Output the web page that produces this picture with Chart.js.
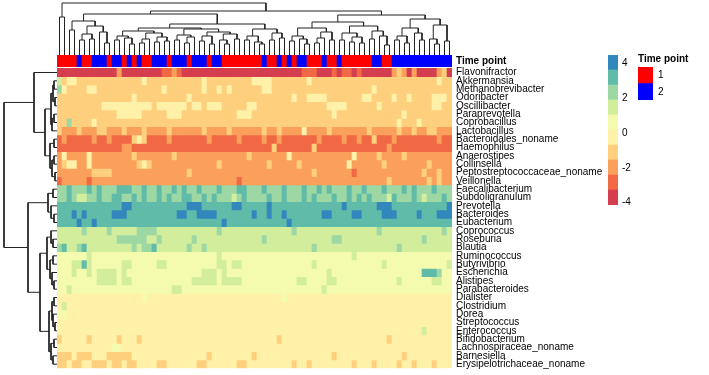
<!DOCTYPE html>
<html>
<head>
<meta charset="utf-8">
<title>Taxa heatmap</title>
<script src="https://cdn.jsdelivr.net/npm/chart.js@4/dist/chart.umd.min.js"></script>
<style>
  body { margin: 0; background: #fff; }
  #wrap { position: relative; width: 709px; height: 375px; overflow: hidden; }
  #wrap canvas { position: absolute; }
</style>
</head>
<body>
<div id="wrap">
  <canvas id="colTree" width="395" height="55" style="left:57px;top:0px"></canvas>
  <canvas id="rowTree" width="57" height="320" style="left:0px;top:55px"></canvas>
  <canvas id="heat" width="652" height="320" style="left:57px;top:55px"></canvas>
  <canvas id="scale" width="32" height="150" style="left:608px;top:55px"></canvas>
  <canvas id="timeKey" width="72" height="52" style="left:637px;top:48px"></canvas>
</div>
<script>
const taxa = ['Flavonifractor', 'Akkermansia', 'Methanobrevibacter', 'Odoribacter', 'Oscillibacter',
  'Paraprevotella', 'Coprobacillus', 'Lactobacillus', 'Bacteroidales_noname', 'Haemophilus',
  'Anaerostipes', 'Collinsella', 'Peptostreptococcaceae_noname', 'Veillonella', 'Faecalibacterium',
  'Subdoligranulum', 'Prevotella', 'Bacteroides', 'Eubacterium', 'Coprococcus', 'Roseburia',
  'Blautia', 'Ruminococcus', 'Butyrivibrio', 'Escherichia', 'Alistipes', 'Parabacteroides',
  'Dialister', 'Clostridium', 'Dorea', 'Streptococcus', 'Enterococcus', 'Bifidobacterium',
  'Lachnospiraceae_noname', 'Barnesiella', 'Erysipelotrichaceae_noname'];

// time point of each sample, in dendrogram order
const timePoint = [1,1,1,1,2,1,1,2,2,2, 1,2,2,1,2,1,2,1,1,2, 2,2,1,2,2,2,1,2,2,2,
  1,2,2,1,1,1,1,1,1,1, 1,2,1,1,2,1,2,1,2,2, 1,1,1,2,1,1,2,1,1,1,
  1,1,1,2,2,1,1,2,2,2, 2,2,2,2,2,2,2,2,2];
const timeColors = ['#FF0000', '#0000FF'];

// binned z-score per cell: 0 = lowest bin (red) ... 9 = highest bin (blue)
const heatCodes = [
  '0000000000 0020000000 0112100000 0000000000 0000000001 1100010110 1000000232 020000230',
  '6344333333 3333333433 3333333334 3333333334 4443333333 4333333333 3333333333 333333433',
  '7433334433 3333333333 3433333334 3343433333 3443333333 3333333333 3334333333 333333333',
  '3333333333 3333343333 3333334333 3333333333 3333333433 4444333333 3443333433 433334443',
  '3333333334 4444444443 4444443443 4443333344 3333333333 3333444433 3333433333 333334433',
  '3333333333 3344444333 3344433333 3333334443 3333333333 3333343333 3333333334 333333333',
  '3373333433 3333333333 3333333333 3333333333 3333333333 3333333333 3333333343 334333333',
  '3222322233 2223222322 2232222223 2222322222 2322322224 2222322222 2232222232 232233222',
  '1211111211 2111134311 1121111111 2111112111 1211211111 1121111211 2113111211 111111211',
  '1111111111 1112211111 1111111111 1111111111 1113111111 1311111111 1111112111 111111111',
  '2422224222 2222232222 2223222222 2222222232 2222224222 2222222224 2222322223 222222222',
  '2344224222 2222223432 2222222222 2232222222 2232222232 2222222242 2222232222 222232222',
  '2222222333 3222222222 2222223222 2222222222 2222222222 2322222221 2222222222 222322322',
  '1222221222 2222222222 2222222222 2222221222 2222222222 2222222222 2222223222 222232322',
  '7787778787 7788877877 8778787787 7787778877 7877787778 7787877787 7877787778 787778777',
  '7787667787 7887787877 8787788778 7877767877 7787787778 7877787787 8787776877 787677787',
  '8888888888 8889988888 8888889998 8888899888 8898888888 8888888988 8888999888 888888889',
  '8889898888 8999888888 8888998899 9988888889 8898898888 8889988889 9888899988 889888999',
  '8888988988 8888888888 8888888888 8889888888 8888889888 8888888888 8888888888 888888888',
  '6666676666 7666667777 6666666666 6676666666 6666666766 6666666666 6666766666 666666676',
  '6666666666 6677777766 7666666766 6666666666 6766666666 6666677666 6666666666 666766666',
  '7866786666 6666676778 6666667667 6666666666 6666666666 6766666666 6666666676 666666666',
  '5555556555 5555555555 5555555555 5565555555 5555555555 5555555556 5555555555 555555555',
  '5556686555 5556655555 6655555555 5566566555 5555555555 5655555555 5555565555 555555556',
  '5556556566 6656555555 5555555556 6656555555 5555555555 5555655555 5555555555 555888755',
  '5555555566 6656655555 5555555666 6656666555 5555555566 5555665555 5555555565 555556655',
  '5565555555 5555555555 5556655555 5555555555 5555555555 5556555555 5555555555 555555555',
  '4444444444 4444444544 4444444444 4444444444 4444454444 4444444444 4444444444 444444444',
  '4644444444 4444444444 4444444444 4444444444 4444444444 4444444444 4444444444 444444444',
  '5544444444 4444444444 4444444444 4444444444 4444444444 4444444444 4444444444 444444444',
  '4444444444 4444444444 4444444444 4444444444 4444444444 4444444444 4444444444 444444444',
  '4444444444 4444444444 4444444444 4444444444 4444444444 4444444444 4444444444 444644444',
  '3444443444 4434443444 4444444444 4444444444 4444344444 4444444444 4444443444 444444444',
  '4444444444 4554444444 4444444444 4444444444 4444444444 4444444444 4444444444 444444444',
  '3334333444 3333344444 4444444444 3444444443 4444444444 4444434444 4444444443 444444444',
  '3343344333 4334334444 3344444433 4444443344 4444444344 3444444443 4443444434 434443444'
];

const zMin = -4.13;
const zMax = 4.48;
const palette = ['#D53E4F', '#F16844', '#FBA05A', '#FECF7D', '#FFF1A8',
  '#F4FBAE', '#D2ED9C', '#9CD7A4', '#60BCA8', '#3288BD'];
const scaleTicks = [-4, -2, 0, 2, 4];

// dendrograms: (height left right), * = leaf
const colTreeSpec =
  '(52 (38 * *) (44 ' +
    '(41 (34 (25 * *) (29 (21 (15 * *) (16 * *)) (23 * (12 * *)))) ' +
      '(31 (27 (24 (19 (15 * *) (17 * (11 * *))) (22 (16 (12 * *) *) (18 (13 * *) (14 * *)))) ' +
              '(26 (20 (15 * *) (18 (12 * *) *)) (23 (19 (14 * *) (11 * *)) (21 (15 * (11 * *)) (16 * *))))) ' +
          '(26 (19 (15 * *) (13 * (11 * *))) (22 (15 * *) (17 * *))))) ' +
    '(40 (33 (27 (19 (14 * *) (16 * (11 * *))) (23 (17 (12 * *) *) (15 * *))) ' +
            '(29 (22 (15 * *) (18 (13 * *) (12 * *))) (24 (16 * *) (19 * (10 * *))))) ' +
        '(36 (27 (19 (15 * *) (12 * *)) (22 * (15 * *))) (30 (16 * (11 * *)) (14 * *))))))';
const rowTreeSpec =
  '(53 (23 * (12 (6 (4 (3 * *) (2 * *)) (5 (3 * *) *)) (7 (3 * *) (5 (3 * *) (2 * *))))) ' +
  '(29 (9 (4 * *) (6 * (3 * *))) (17 (10 (6 * (4 * *)) (7 (4 * *) (5 * (3 * *)))) ' +
  '(8 (5 (3 * *) (4 * (2 * *))) (6 (3 * *) (4 * *))))))';

const zStep = (zMax - zMin) / palette.length;
const topBand = 1.6; // time point row + gap, in row units

function colorFor(v) {
  const k = Math.floor((v - zMin) / zStep);
  return palette[Math.max(0, Math.min(palette.length - 1, k))];
}

function treeSegments(spec, rotate) {
  const tokens = spec.match(/\(|\)|\*|\d+(?:\.\d+)?/g);
  let i = 0, leaf = 0;
  const pts = [];
  function walk() {
    const t = tokens[i++];
    if (t === '*') return { pos: leaf++, h: 0 };
    const h = parseFloat(tokens[i++]);
    const a = walk(), b = walk();
    i++;
    [[a.pos, a.h], [a.pos, h], [b.pos, h], [b.pos, b.h]].forEach(([p, v]) => {
      pts.push(rotate ? { x: v, y: p } : { x: p, y: v });
    });
    pts.push({ x: null, y: null });
    return { pos: (a.pos + b.pos) / 2, h };
  }
  walk();
  return pts;
}

Chart.defaults.font.family = "'Liberation Sans', Arial, Helvetica, sans-serif";
Chart.defaults.font.size = 10;
Chart.defaults.color = '#000';
Chart.defaults.animation = false;
Chart.defaults.responsive = false;
Chart.defaults.events = [];
Chart.defaults.plugins.legend.display = false;
Chart.defaults.plugins.tooltip.enabled = false;

const samples = timePoint.map((_, i) => 'S' + (i + 1));
const cellValues = heatCodes.map(row => row.replace(/ /g, '').split('').map(c => zMin + (Number(c) + 0.5) * zStep));
const labelPos = [0.7].concat(taxa.map((_, r) => topBand + r + 0.5));
const rowLabels = ['Time point'].concat(taxa);

const heatDatasets = [
  { label: 'Time point', data: samples.map(() => 1.4), backgroundColor: timePoint.map(t => timeColors[t - 1]) },
  { label: 'gap', data: samples.map(() => 0.2), backgroundColor: 'rgba(0,0,0,0)' }
].concat(taxa.map((name, r) => ({
  label: name,
  data: samples.map(() => 1),
  backgroundColor: cellValues[r].map(colorFor)
})));

new Chart(document.getElementById('heat'), {
  type: 'bar',
  data: { labels: samples, datasets: heatDatasets },
  options: {
    layout: { padding: { left: 0, right: 0, top: 0, bottom: 6.67 } },
    datasets: { bar: { barPercentage: 1, categoryPercentage: 1, borderWidth: 0 } },
    scales: {
      x: { display: false, stacked: true },
      y: {
        type: 'linear', position: 'right', stacked: true, reverse: true,
        min: 0, max: topBand + taxa.length,
        grid: { display: false, drawTicks: false },
        border: { display: false },
        afterBuildTicks: s => { s.ticks = labelPos.map(v => ({ value: v })); },
        afterFit: s => { s.width = 257; s.paddingTop = 0; s.paddingBottom = 0; },
        ticks: {
          autoSkip: false, padding: 4,
          callback: (v, i) => rowLabels[i],
          font: c => ({ size: 10, weight: c.index === 0 ? 'bold' : 'normal' })
        }
      }
    }
  }
});

const lineStyle = { showLine: true, borderColor: '#222', borderWidth: 1, pointRadius: 0, spanGaps: false };

new Chart(document.getElementById('colTree'), {
  type: 'scatter',
  data: { datasets: [Object.assign({ data: treeSegments(colTreeSpec, false) }, lineStyle)] },
  options: {
    layout: { padding: 0 },
    scales: {
      x: { type: 'linear', display: false, min: -0.5, max: samples.length - 0.5 },
      y: { type: 'linear', display: false, min: 0, max: 55 }
    }
  }
});

new Chart(document.getElementById('rowTree'), {
  type: 'scatter',
  data: { datasets: [Object.assign({ data: treeSegments(rowTreeSpec, true) }, lineStyle)] },
  options: {
    layout: { padding: { top: 0, bottom: 6.67, left: 0, right: 0 } },
    scales: {
      x: { type: 'linear', display: false, reverse: true, min: 0, max: 57 },
      y: { type: 'linear', display: false, reverse: true, min: -topBand - 0.5, max: taxa.length - 0.5 }
    }
  }
});

new Chart(document.getElementById('scale'), {
  type: 'bar',
  data: {
    labels: [''],
    datasets: palette.map((c, k) => ({
      data: [[zMin + k * zStep, zMin + (k + 1) * zStep]],
      backgroundColor: c, grouped: false, barPercentage: 1, categoryPercentage: 1, borderWidth: 0
    }))
  },
  options: {
    layout: { padding: 0 },
    scales: {
      x: { display: false },
      y: {
        position: 'right', min: zMin, max: zMax,
        grid: { display: false, drawTicks: false },
        border: { display: false },
        afterBuildTicks: s => { s.ticks = scaleTicks.map(v => ({ value: v })); },
        afterFit: s => { s.width = 22; s.paddingTop = 0; s.paddingBottom = 0; },
        ticks: { padding: 4, autoSkip: false }
      }
    }
  }
});

new Chart(document.getElementById('timeKey'), {
  type: 'bar',
  data: {
    labels: ['1', '2'],
    datasets: [{ data: [1, 1], backgroundColor: timeColors, barPercentage: 1, categoryPercentage: 1, borderWidth: 0 }]
  },
  options: {
    indexAxis: 'y',
    layout: { padding: { left: 1, right: 0, top: 0, bottom: 0 } },
    plugins: {
      title: {
        display: true, text: 'Time point', align: 'start', color: '#000',
        font: { size: 10, weight: 'bold' }, padding: { top: 5, bottom: 2 }
      }
    },
    scales: {
      x: { display: false, min: 0, max: 1 },
      y: {
        position: 'right',
        grid: { display: false, drawTicks: false },
        border: { display: false },
        afterFit: s => { s.width = 56; s.paddingTop = 0; s.paddingBottom = 0; },
        ticks: { padding: 5 }
      }
    }
  }
});
</script>
</body>
</html>
